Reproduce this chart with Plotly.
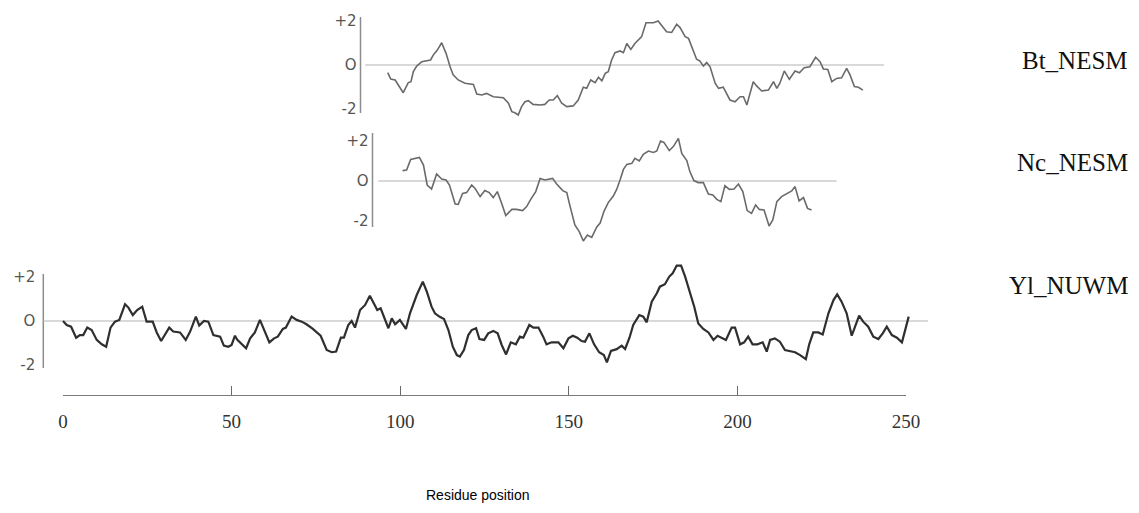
import plotly.graph_objects as go

# ---------------- data (residue position, hydropathy score) ----------------
bt_x = [96.3, 97.2, 98.5, 99.4, 100.9, 102.4, 103.2, 103.9, 104.9, 106.4,
        107.9, 109.0, 109.8, 111.0, 112.3, 113.6, 114.8, 115.7, 117.2, 119.2,
        121.7, 122.7, 124.2, 125.6, 127.6, 130.6, 132.1, 133.1, 134.0, 135.0,
        136.0, 137.0, 138.0, 139.4, 141.5, 142.9, 144.2, 145.4, 146.6, 147.9,
        149.4, 151.3, 152.8, 154.3, 155.3, 156.5, 157.8, 158.8, 159.8, 160.8,
        161.7, 162.7, 163.7, 165.2, 166.2, 167.2, 168.4, 169.6, 171.6, 172.9,
        175.1, 176.5, 178.0, 179.0, 180.5, 182.0, 183.0, 184.5, 185.5, 186.4,
        187.9, 188.9, 189.9, 190.9, 191.9, 193.4, 194.4, 195.8, 197.8, 199.3,
        200.8, 201.8, 202.8, 204.7, 205.7, 207.2, 209.2, 210.7, 211.7, 212.6,
        213.9, 215.4, 217.1, 218.4, 219.8, 221.5, 223.2, 224.5, 225.5, 226.8,
        228.0, 229.4, 230.9, 232.4, 233.4, 234.7, 235.9, 237.2]
bt_y = [-0.35, -0.64, -0.68, -0.91, -1.26, -0.80, -0.76, -0.30, -0.05, 0.15,
        0.20, 0.23, 0.45, 0.68, 1.01, 0.53, -0.08, -0.45, -0.68, -0.83,
        -0.88, -1.32, -1.36, -1.29, -1.44, -1.49, -1.74, -2.12, -2.17, -2.27,
        -1.89, -1.67, -1.62, -1.79, -1.82, -1.79, -1.59, -1.59, -1.39, -1.74,
        -1.89, -1.86, -1.59, -1.01, -1.06, -0.68, -0.80, -0.56, -0.72, -0.38,
        -0.30, 0.23, 0.56, 0.64, 0.56, 0.98, 0.71, 0.98, 1.29, 1.92,
        1.92, 2.00, 1.71, 1.51, 1.48, 1.85, 1.70, 1.29, 1.21, 0.83,
        0.26, 0.18, -0.05, 0.11, -0.08, -0.83, -1.06, -1.01, -1.59, -1.67,
        -1.44, -1.44, -1.82, -0.76, -0.95, -1.18, -1.14, -0.76, -1.06, -0.83,
        -0.27, -0.65, -0.27, -0.35, -0.12, -0.08, 0.35, 0.15, -0.18, -0.20,
        -0.76, -0.61, -0.58, -0.15, -0.45, -0.98, -1.01, -1.14]

nc_x = [100.7, 101.9, 103.1, 104.4, 105.7, 106.9, 108.0, 109.3, 110.8, 112.3,
        113.6, 114.6, 116.3, 117.2, 118.5, 119.7, 121.2, 122.2, 123.7, 125.1,
        126.4, 127.6, 128.8, 130.1, 131.3, 133.1, 134.5, 136.3, 137.5, 138.7,
        140.2, 141.5, 142.9, 145.2, 146.4, 148.2, 149.4, 150.4, 151.8, 153.1,
        154.3, 155.5, 156.8, 158.3, 159.3, 160.4, 161.7, 163.2, 164.2, 165.2,
        166.2, 167.2, 168.7, 169.6, 170.9, 172.1, 173.6, 175.1, 176.1, 177.2,
        178.2, 179.8, 181.0, 182.5, 183.5, 185.0, 185.9, 187.1, 188.4, 189.9,
        191.4, 192.7, 193.9, 195.1, 196.3, 197.6, 199.0, 200.3, 201.6, 202.9,
        204.2, 205.4, 206.5, 207.9, 209.4, 210.5, 211.7, 213.1, 214.6, 216.1,
        217.1, 218.3, 219.6, 220.8, 222.0]
nc_y = [0.52, 0.55, 1.08, 1.12, 1.18, 0.80, -0.20, -0.40, 0.35, 0.10,
        0.05, -0.20, -1.15, -1.17, -0.62, -0.58, -0.20, -0.37, -0.78, -0.48,
        -0.58, -0.83, -0.53, -1.12, -1.73, -1.42, -1.42, -1.48, -1.28, -0.92,
        -0.53, 0.13, 0.05, 0.13, -0.15, -0.48, -0.58, -1.28, -2.20, -2.53,
        -3.00, -2.70, -2.82, -2.30, -2.10, -1.53, -1.08, -0.75, -0.42, 0.05,
        0.58, 0.83, 0.88, 1.13, 1.00, 1.33, 1.50, 1.43, 1.50, 2.00,
        1.93, 1.52, 1.72, 2.13, 1.38, 1.02, 0.47, 0.02, -0.08, -0.08,
        -0.65, -0.70, -0.92, -1.03, -0.23, -0.42, -0.40, -0.15, -0.53, -1.48,
        -1.62, -1.20, -1.42, -1.45, -2.25, -1.95, -1.03, -0.78, -0.65, -0.50,
        -0.28, -1.00, -0.83, -1.37, -1.45]

yl_x = [0.0, 1.1, 2.4, 3.9, 5.0, 6.0, 7.2, 8.5, 10.0, 11.5,
        12.8, 14.1, 15.4, 16.7, 18.4, 19.4, 20.7, 22.0, 23.5, 24.8,
        26.6, 27.8, 29.1, 30.4, 31.5, 32.7, 34.7, 36.4, 37.7, 39.4,
        40.4, 41.8, 43.1, 44.6, 46.6, 47.7, 49.0, 50.0, 51.0, 51.7,
        52.8, 54.3, 55.5, 56.9, 58.4, 59.7, 61.2, 62.6, 63.7, 65.2,
        66.1, 67.8, 69.3, 70.8, 72.2, 74.0, 76.4, 78.2, 79.7, 81.0,
        82.4, 83.3, 84.6, 85.6, 86.6, 88.1, 89.6, 91.0, 92.0, 93.2,
        94.2, 95.2, 96.5, 97.5, 98.5, 99.9, 101.7, 102.9, 104.9, 106.7,
        107.9, 109.3, 110.3, 111.6, 113.0, 114.3, 115.6, 116.8, 117.7, 118.9,
        120.2, 121.2, 122.5, 123.5, 124.9, 126.1, 127.6, 128.9, 130.1, 131.4,
        132.8, 134.3, 135.5, 136.5, 138.3, 139.5, 141.0, 142.4, 143.4, 144.9,
        146.9, 148.4, 149.9, 151.2, 152.5, 153.8, 154.8, 156.1, 157.5, 159.0,
        160.4, 161.3, 162.5, 164.2, 165.7, 166.7, 168.0, 169.1, 170.9, 172.1,
        173.1, 174.6, 176.1, 177.0, 178.5, 179.8, 180.8, 182.0, 183.3, 184.5,
        185.9, 187.2, 188.4, 189.9, 191.4, 192.9, 194.1, 195.4, 196.6, 198.3,
        199.3, 200.8, 202.0, 203.2, 204.5, 205.9, 207.5, 208.7, 209.7, 211.1,
        212.6, 214.1, 215.6, 217.1, 218.6, 220.3, 221.3, 222.5, 224.0, 225.3,
        227.0, 228.5, 229.6, 230.9, 232.4, 233.9, 234.9, 236.1, 237.3, 238.8,
        240.3, 241.8, 243.1, 244.3, 245.8, 247.3, 248.8, 249.8, 250.8]
yl_y = [0.00, -0.18, -0.26, -0.76, -0.64, -0.64, -0.30, -0.41, -0.86, -1.06,
        -1.17, -0.30, -0.03, 0.05, 0.76, 0.61, 0.27, 0.50, 0.65, -0.03,
        -0.03, -0.52, -0.91, -0.56, -0.30, -0.48, -0.52, -0.86, -0.48, 0.20,
        -0.21, 0.00, -0.03, -0.64, -0.71, -1.12, -1.17, -1.09, -0.67, -0.86,
        -1.02, -1.24, -0.79, -0.52, 0.05, -0.41, -0.97, -0.79, -0.71, -0.36,
        -0.30, 0.20, 0.05, -0.03, -0.15, -0.35, -0.67, -1.32, -1.42, -1.39,
        -0.76, -0.76, -0.18, 0.00, -0.30, 0.50, 0.73, 1.15, 0.88, 0.50,
        0.58, 0.15, -0.33, 0.12, -0.15, 0.05, -0.36, 0.35, 1.18, 1.79,
        1.33, 0.65, 0.35, 0.20, 0.09, -0.41, -1.17, -1.55, -1.62, -1.32,
        -0.64, -0.41, -0.33, -0.82, -0.86, -0.56, -0.45, -0.56, -1.09, -1.52,
        -0.97, -1.06, -0.71, -0.76, -0.18, -0.30, -0.30, -0.71, -1.06, -0.97,
        -0.97, -1.24, -0.79, -0.67, -0.76, -0.91, -0.94, -0.56, -1.06, -1.42,
        -1.55, -1.88, -1.36, -1.28, -1.12, -1.27, -0.76, -0.18, 0.27, 0.20,
        -0.06, 0.88, 1.26, 1.56, 1.67, 2.02, 2.17, 2.52, 2.52, 2.02,
        1.33, 0.65, -0.11, -0.36, -0.52, -0.86, -0.67, -0.76, -0.86, -0.30,
        -0.30, -1.06, -0.97, -0.71, -1.06, -1.06, -0.97, -1.39, -0.86, -0.79,
        -0.94, -1.32, -1.36, -1.42, -1.55, -1.73, -1.06, -0.52, -0.52, -0.61,
        0.35, 0.95, 1.21, 0.88, 0.35, -0.67, -0.26, 0.24, -0.03, -0.26,
        -0.71, -0.82, -0.56, -0.26, -0.64, -0.76, -0.97, -0.36, 0.20]

series_names = ["Bt_NESM", "Nc_NESM", "Yl_NUWM"]
y_tick_vals = [-2, 0, 2]
y_tick_text = ["-2", "O", "+2"]
x_tick_vals = [0, 50, 100, 150, 200, 250]
x_end_ticks = [0, 250]
x_title = "Residue position"

# ---------------- layout helpers ----------------
W, H = 1139, 513
PX_PER_RES = 3.372
X0_PX = 63.0


def fx(px):
    return px / W


def fy(py):
    return 1 - py / H


# per panel geometry in pixels
panels = [
    dict(zero=65, ppu=22, top=2, bot=128, ax=360.5, line=(2.18, -2.18), zl=(89.6, 243.5), lab=60),
    dict(zero=181, ppu=20, top=128, bot=248, ax=372.5, line=(2.4, -2.3), zl=(93.5, 229.4), lab=162),
    dict(zero=321, ppu=22, top=252, bot=382, ax=43.3, line=(2.14, -2.14), zl=(-5.9, 256.5), lab=285),
]
trace_data = [(bt_x, bt_y), (nc_x, nc_y), (yl_x, yl_y)]
line_styles = [dict(color="#6a6a6a", width=1.6),
               dict(color="#6a6a6a", width=1.6),
               dict(color="#2f2f2f", width=2.2)]

fig = go.Figure()
shapes = []
annotations = []
layout = dict(
    width=W, height=H, autosize=False,
    margin=dict(l=0, r=0, t=0, b=0, pad=0, autoexpand=False),
    paper_bgcolor="white", plot_bgcolor="rgba(0,0,0,0)",
    showlegend=False,
    xaxis=dict(domain=[0, 1], range=[-X0_PX / PX_PER_RES, (W - X0_PX) / PX_PER_RES],
               visible=False, fixedrange=True),
)

for i, (p, (xs, ys)) in enumerate(zip(panels, trace_data)):
    yname = "y" if i == 0 else f"y{i + 1}"
    lname = "yaxis" if i == 0 else f"yaxis{i + 1}"
    rng = [(p["zero"] - p["bot"]) / p["ppu"], (p["zero"] - p["top"]) / p["ppu"]]
    layout[lname] = dict(
        domain=[fy(p["bot"]), fy(p["top"])], range=rng,
        anchor="free", position=fx(p["ax"]),
        showgrid=False, zeroline=False, showline=False, ticks="",
        tickvals=y_tick_vals, ticktext=y_tick_text,
        tickfont=dict(family="DejaVu Sans", size=15, color="#555555"),
        ticklabelstandoff=4 if i < 2 else 8,
        fixedrange=True,
    )
    fig.add_trace(go.Scatter(x=xs, y=ys, mode="lines", xaxis="x", yaxis=yname,
                             line=dict(**line_styles[i]), hoverinfo="skip",
                             name=series_names[i]))
    shapes.append(dict(type="line", xref="x", yref=yname, x0=p["zl"][0], x1=p["zl"][1],
                       y0=0, y1=0, line=dict(color="#b4b4b4", width=1.2), layer="below"))
    shapes.append(dict(type="line", xref="paper", yref=yname, x0=fx(p["ax"]), x1=fx(p["ax"]),
                       y0=p["line"][1], y1=p["line"][0],
                       line=dict(color="#8c8c8c", width=1.5), layer="below"))
    annotations.append(dict(text=series_names[i], xref="paper", yref="paper",
                            x=fx(1130), y=fy(p["lab"]), xanchor="right", yanchor="middle",
                            showarrow=False,
                            font=dict(family="Liberation Serif", size=25, color="#111111")))

# bottom residue ruler (own hidden y axis so it never covers the data panels)
ruler_y = fy(395)
ruler_dom = [fx(X0_PX), fx(X0_PX + 250 * PX_PER_RES)]
layout["yaxis4"] = dict(domain=[fy(400), fy(396)], range=[0, 1], visible=False,
                        anchor="x2", fixedrange=True)
layout["xaxis2"] = dict(domain=ruler_dom, range=[0, 250], anchor="free", position=ruler_y,
                        showline=True, linecolor="#7a7a7a", linewidth=1,
                        ticks="inside", ticklen=9, tickwidth=1, tickcolor="#6a6a6a",
                        tickvals=x_tick_vals, ticktext=[str(v) for v in x_tick_vals],
                        tickfont=dict(family="Liberation Serif", size=19, color="#333333"),
                        ticklabelstandoff=9,
                        showgrid=False, zeroline=False, fixedrange=True)
layout["xaxis3"] = dict(domain=ruler_dom, range=[0, 250], anchor="free", position=ruler_y,
                        overlaying="x2",
                        showline=False, ticks="inside", ticklen=15, tickwidth=1,
                        tickcolor="#6a6a6a", tickvals=x_end_ticks, showticklabels=False,
                        showgrid=False, zeroline=False, fixedrange=True)
fig.add_trace(go.Scatter(x=x_tick_vals, y=[None] * len(x_tick_vals), xaxis="x2", yaxis="y4",
                         mode="lines", hoverinfo="skip"))
fig.add_trace(go.Scatter(x=x_end_ticks, y=[None] * len(x_end_ticks), xaxis="x3", yaxis="y4",
                         mode="lines", hoverinfo="skip"))

annotations.append(dict(text=x_title, xref="paper", yref="paper", x=fx(478), y=fy(495),
                        xanchor="center", yanchor="middle", showarrow=False,
                        font=dict(family="Liberation Sans", size=14, color="#000000")))

layout["shapes"] = shapes
layout["annotations"] = annotations
fig.update_layout(**layout)
fig.write_html("out.html")
